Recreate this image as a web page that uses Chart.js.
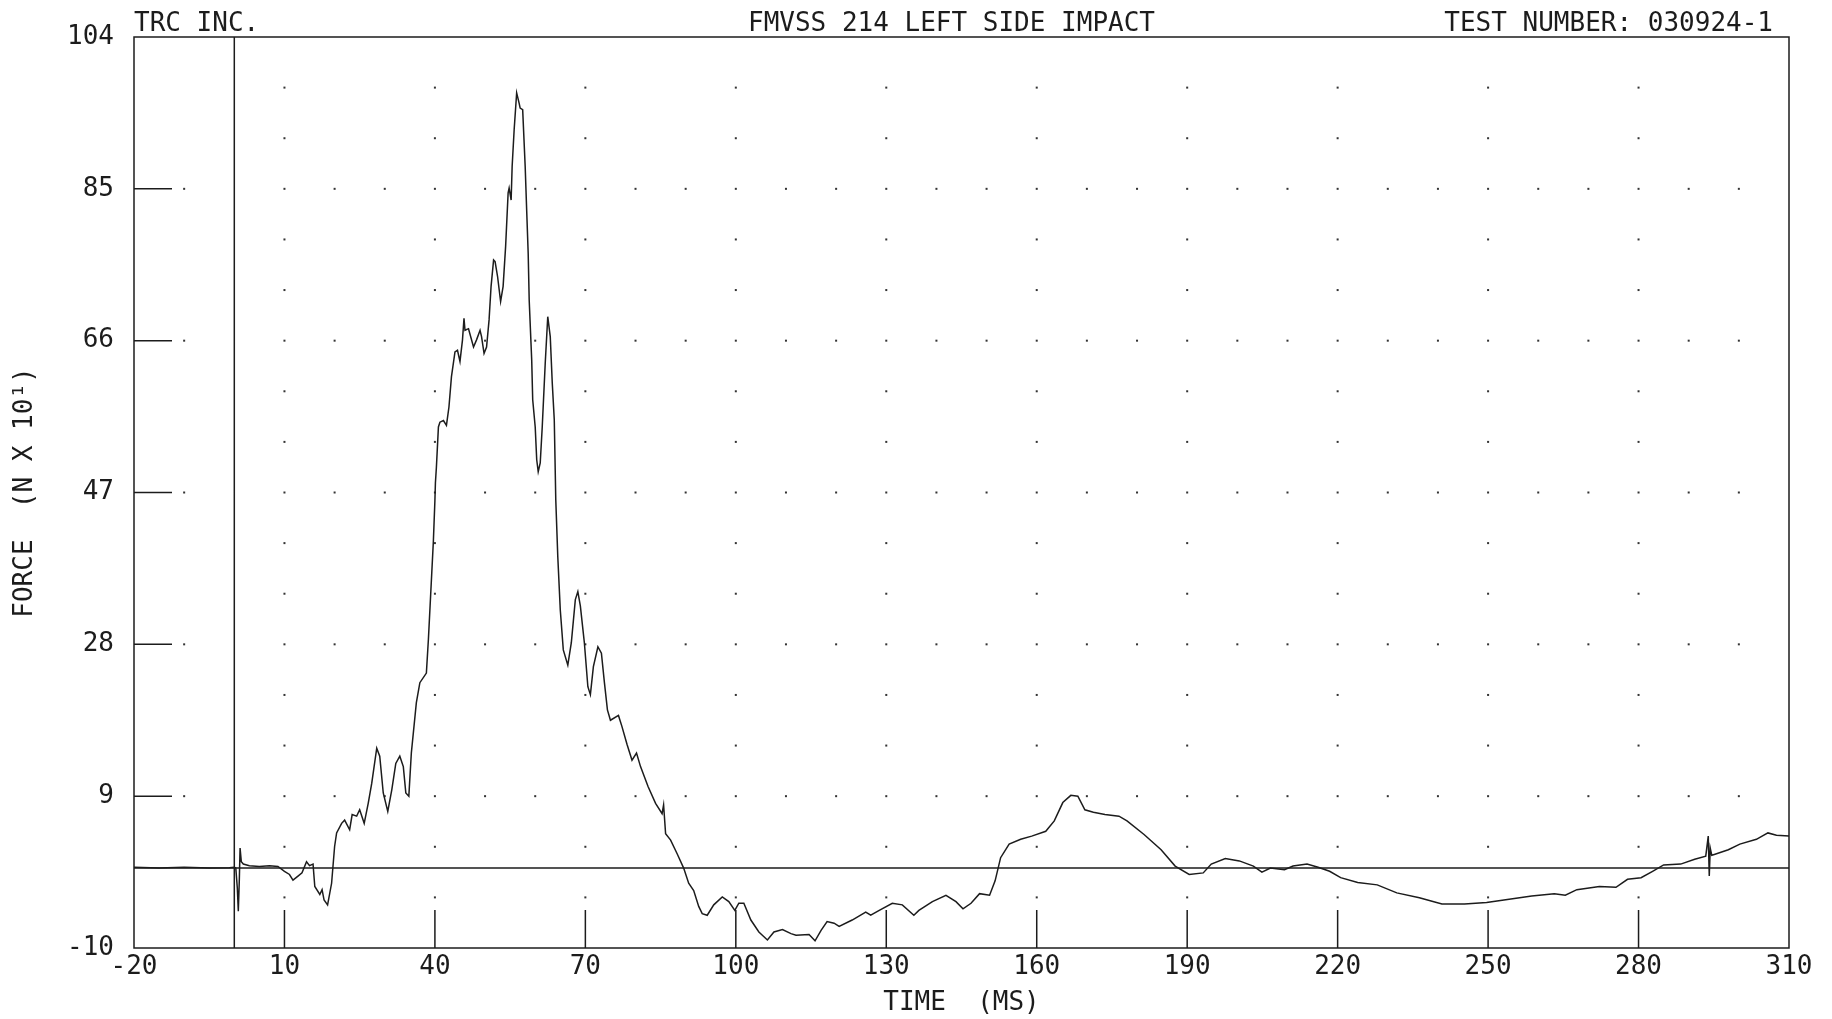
<!DOCTYPE html>
<html>
<head>
<meta charset="utf-8">
<script src="https://cdn.jsdelivr.net/npm/chart.js@4.4.1/dist/chart.umd.min.js"></script>
<style>
html, body { margin: 0; padding: 0; background: #fff; }
#wrap { width: 1832px; height: 1019px; }
</style>
</head>
<body>
<div id="wrap"><canvas id="forceChart"></canvas></div>
<script>
// values (time in ms, force in N x 10)
const timeMs = [
  -20, -15, -10, -5, -1, 0, 0.3, 0.6, 0.8, 1.0, 1.15, 1.4, 1.8, 3, 5, 7, 8.7,
  10, 11, 11.7, 12.7, 13.5, 14.4, 15.0, 15.7, 16.05, 17.05, 17.5, 17.9, 18.6, 19.4,
  20.0, 20.4, 21.4, 22.0, 23.0, 23.5, 24.4, 25.0, 25.9, 26.7, 27.4, 28.4, 29.0, 29.7,
  30.6, 31.4, 32.2, 33.0, 33.7, 34.2, 34.8, 35.3, 36.3, 37.0, 38.3, 38.7, 39.7, 40.0,
  40.1, 40.3, 40.7, 41.0, 41.7, 42.3, 42.8, 43.3, 44.0, 44.5, 45.0, 45.5, 45.8, 46.0,
  46.7, 47.7, 48.3, 49.0, 49.3, 49.8, 50.3, 50.8, 51.2, 51.7, 52.0, 52.5, 53.1, 53.6,
  54.1, 54.6, 54.8, 55.2, 55.4, 55.8, 56.3, 56.8, 57.0, 57.5, 58.0, 58.3, 58.6, 58.8,
  59.3, 59.5, 60.0, 60.3, 60.6, 61.0, 61.4, 62.0, 62.5, 63.0, 63.4, 63.8, 64.1, 64.5,
  65.0, 65.6, 66.5, 67.2, 68.0, 68.5, 69.0, 69.8, 70.5, 71.0, 71.6, 72.5, 73.2, 73.8,
  74.4, 75.0, 76.6, 77.3, 78.3, 79.3, 80.2, 81.0, 82.5, 84.0, 85.3, 85.6, 86.0, 87.0,
  88.3, 89.6, 90.6, 91.6, 92.6, 93.3, 94.3, 95.6, 97.3, 98.6, 99.8, 100.6, 101.6, 103.0,
  104.6, 106.3, 107.6, 109.3, 111.0, 112.0, 114.6, 115.8, 117.0, 118.2, 119.6, 120.6,
  123.2, 125.9, 126.9, 128.6, 131.2, 133.2, 135.5, 136.5, 139.2, 141.9, 143.9, 145.3,
  146.9, 148.6, 150.6, 151.7, 152.8, 154.5, 156.8, 159.0, 161.8, 163.5, 165.2, 166.8,
  168.2, 169.6, 171.3, 173.6, 176.4, 178.0, 181.4, 184.8, 187.6, 190.4, 193.2, 194.8,
  197.6, 200.4, 203.2, 204.9, 206.6, 209.4, 211.1, 213.9, 216.1, 218.4, 220.6, 224.0,
  227.9, 231.8, 236.3, 240.8, 245.3, 249.7, 254.2, 258.7, 263.2, 265.4, 267.7, 272.2,
  275.5, 277.8, 280.5, 282.8, 285.0, 288.4, 291.2, 293.4, 293.9, 294.1, 294.3, 294.6,
  295.1, 297.9, 300.2, 303.5, 305.8, 307.5, 310
];
const force = [
  0.1, 0.0, 0.1, 0.0, 0.05, 0.1, 0.0, -2.5, -5.4, -1.5, 2.5, 0.8, 0.5, 0.3, 0.2, 0.3, 0.2,
  -0.4, -0.8, -1.5, -1.0, -0.6, 0.8, 0.3, 0.5, -2.3, -3.3, -2.7, -4.0, -4.6, -1.9,
  2.7, 4.4, 5.6, 6.0, 4.8, 6.7, 6.5, 7.3, 5.6, 8.1, 10.6, 15.0, 14.0, 9.4,
  7.1, 9.8, 13.1, 14.0, 12.7, 9.4, 9.0, 14.4, 20.7, 23.2, 24.4, 28.6, 41.0, 46.0,
  48.2, 50.2, 55.2, 55.8, 56.0, 55.4, 57.7, 61.5, 64.6, 64.8, 63.4, 66.1, 68.8, 67.3,
  67.5, 65.2, 66.1, 67.3, 66.5, 64.4, 65.2, 68.6, 72.8, 76.1, 75.9, 74.0, 70.9, 72.8,
  77.8, 84.5, 85.1, 83.6, 87.8, 92.4, 97.0, 95.7, 95.1, 94.9, 87.8, 82.3, 76.9, 71.1,
  63.6, 58.6, 55.2, 51.1, 49.6, 50.7, 55.2, 63.2, 69.0, 66.5, 60.7, 56.1, 46.1, 39.0,
  32.3, 27.3, 25.4, 28.2, 33.6, 34.6, 32.8, 28.2, 22.7, 21.7, 25.2, 27.7, 26.9, 23.2,
  19.8, 18.5, 19.1, 17.7, 15.5, 13.5, 14.4, 12.7, 10.2, 8.1, 6.8, 7.9, 4.3, 3.5,
  1.8, 0.0, -1.9, -2.8, -4.8, -5.7, -5.9, -4.6, -3.6, -4.2, -5.3, -4.4, -4.4, -6.5,
  -8.0, -9.0, -8.0, -7.7, -8.2, -8.4, -8.3, -9.1, -7.8, -6.7, -6.9, -7.3,
  -6.5, -5.5, -5.9, -5.3, -4.4, -4.6, -5.9, -5.3, -4.2, -3.4, -4.2, -5.1,
  -4.4, -3.2, -3.4, -1.6, 1.3, 3.0, 3.6, 4.0, 4.6, 5.9, 8.2, 9.1,
  9.0, 7.3, 7.0, 6.7, 6.5, 5.9, 4.2, 2.3, 0.25, -0.8, -0.6, 0.5,
  1.2, 0.9, 0.25, -0.5, 0.0, -0.2, 0.25, 0.5, 0.1, -0.4, -1.2, -1.8,
  -2.1, -3.1, -3.7, -4.5, -4.5, -4.3, -3.9, -3.5, -3.2, -3.4, -2.7, -2.3,
  -2.4, -1.4, -1.2, -0.4, 0.4, 0.5, 1.1, 1.5, 4.0, -1.0, 2.5, 1.6,
  1.7, 2.3, 3.0, 3.6, 4.4, 4.1, 4.0
];
const xTickVals = [-20, 10, 40, 70, 100, 130, 160, 190, 220, 250, 280, 310];
const yTickVals = [-10, 9, 28, 47, 66, 85, 104];
const headerLeft = 'TRC INC.';
const headerMid = 'FMVSS 214 LEFT SIDE IMPACT';
const headerRight = 'TEST NUMBER: 030924-1';

const FONT = '"DejaVu Sans Mono", "Liberation Mono", monospace';
const INK = '#1c1c1c';

// frame, inward ticks, zero lines and dot grid like the old plotter output
const plotFrame = {
  id: 'plotFrame',
  beforeDatasetsDraw(chart) {
    const { ctx, chartArea: a, scales: { x, y } } = chart;
    ctx.save();
    ctx.strokeStyle = INK;
    ctx.lineWidth = 1.5;
    ctx.strokeRect(a.left, a.top, a.width, a.height);

    ctx.beginPath();
    yTickVals.slice(1, -1).forEach(v => {
      const py = y.getPixelForValue(v);
      ctx.moveTo(a.left, py);
      ctx.lineTo(a.left + 38, py);
    });
    xTickVals.slice(1, -1).forEach(v => {
      const px = x.getPixelForValue(v);
      ctx.moveTo(px, a.bottom);
      ctx.lineTo(px, a.bottom - 38);
    });
    // zero lines
    const y0 = y.getPixelForValue(0), x0 = x.getPixelForValue(0);
    ctx.moveTo(a.left, y0);
    ctx.lineTo(a.right, y0);
    ctx.moveTo(x0, a.top);
    ctx.lineTo(x0, a.bottom);
    ctx.stroke();

    // dots
    ctx.fillStyle = '#333';
    const ySub = (yTickVals[1] - yTickVals[0]) / 3;
    const nRows = Math.round((yTickVals[yTickVals.length - 1] - yTickVals[0]) / ySub);
    for (let k = 1; k < nRows; k++) {
      const py = y.getPixelForValue(yTickVals[0] + k * ySub);
      let cols;
      if (k % 3 === 0) {
        cols = [];
        for (let t = -10; t < 310; t += 10) if (t !== 0) cols.push(t);
      } else {
        cols = xTickVals.slice(1, -1);
      }
      cols.forEach(t => {
        const px = x.getPixelForValue(t);
        ctx.fillRect(px - 1, py - 1, 2, 2);
      });
    }
    ctx.restore();
  },
  afterDraw(chart) {
    const { ctx, chartArea: a } = chart;
    ctx.save();
    ctx.fillStyle = INK;
    ctx.font = '26px ' + FONT;
    ctx.textBaseline = 'alphabetic';
    ctx.textAlign = 'left';
    ctx.fillText(headerLeft, a.left, 31);
    ctx.textAlign = 'center';
    ctx.fillText(headerMid, (a.left + a.right) / 2 - 10, 31);
    ctx.textAlign = 'right';
    ctx.fillText(headerRight, a.right - 16, 31);
    ctx.restore();
  }
};

new Chart(document.getElementById('forceChart'), {
  type: 'line',
  data: {
    datasets: [{
      data: timeMs.map((t, i) => ({ x: t, y: force[i] })),
      borderColor: INK,
      borderWidth: 1.5,
      pointRadius: 0,
      tension: 0,
      fill: false
    }]
  },
  plugins: [plotFrame],
  options: {
    responsive: true,
    maintainAspectRatio: false,
    animation: false,
    layout: { padding: { top: 37, right: 43, bottom: 0, left: 0 } },
    plugins: { legend: { display: false }, tooltip: { enabled: false } },
    scales: {
      x: {
        type: 'linear',
        min: -20,
        max: 310,
        afterBuildTicks: s => { s.ticks = xTickVals.map(v => ({ value: v })); },
        afterFit: s => { s.height = 71; },
        grid: { display: false, drawTicks: false },
        border: { display: false },
        ticks: { color: INK, font: { family: FONT, size: 26 }, padding: 4, maxRotation: 0, autoSkip: false },
        title: { display: true, text: 'TIME  (MS)', color: INK, font: { family: FONT, size: 26 }, padding: 0 }
      },
      y: {
        type: 'linear',
        min: -10,
        max: 104,
        afterBuildTicks: s => { s.ticks = yTickVals.map(v => ({ value: v })); },
        afterFit: s => { s.width = 134; },
        grid: { display: false, drawTicks: false },
        border: { display: false },
        ticks: { color: INK, font: { family: FONT, size: 26 }, padding: 20, autoSkip: false },
        title: { display: true, text: 'FORCE  (N X 10¹)', color: INK, font: { family: FONT, size: 26 }, padding: { top: 10, bottom: 0 } }
      }
    }
  }
});
</script>
</body>
</html>
